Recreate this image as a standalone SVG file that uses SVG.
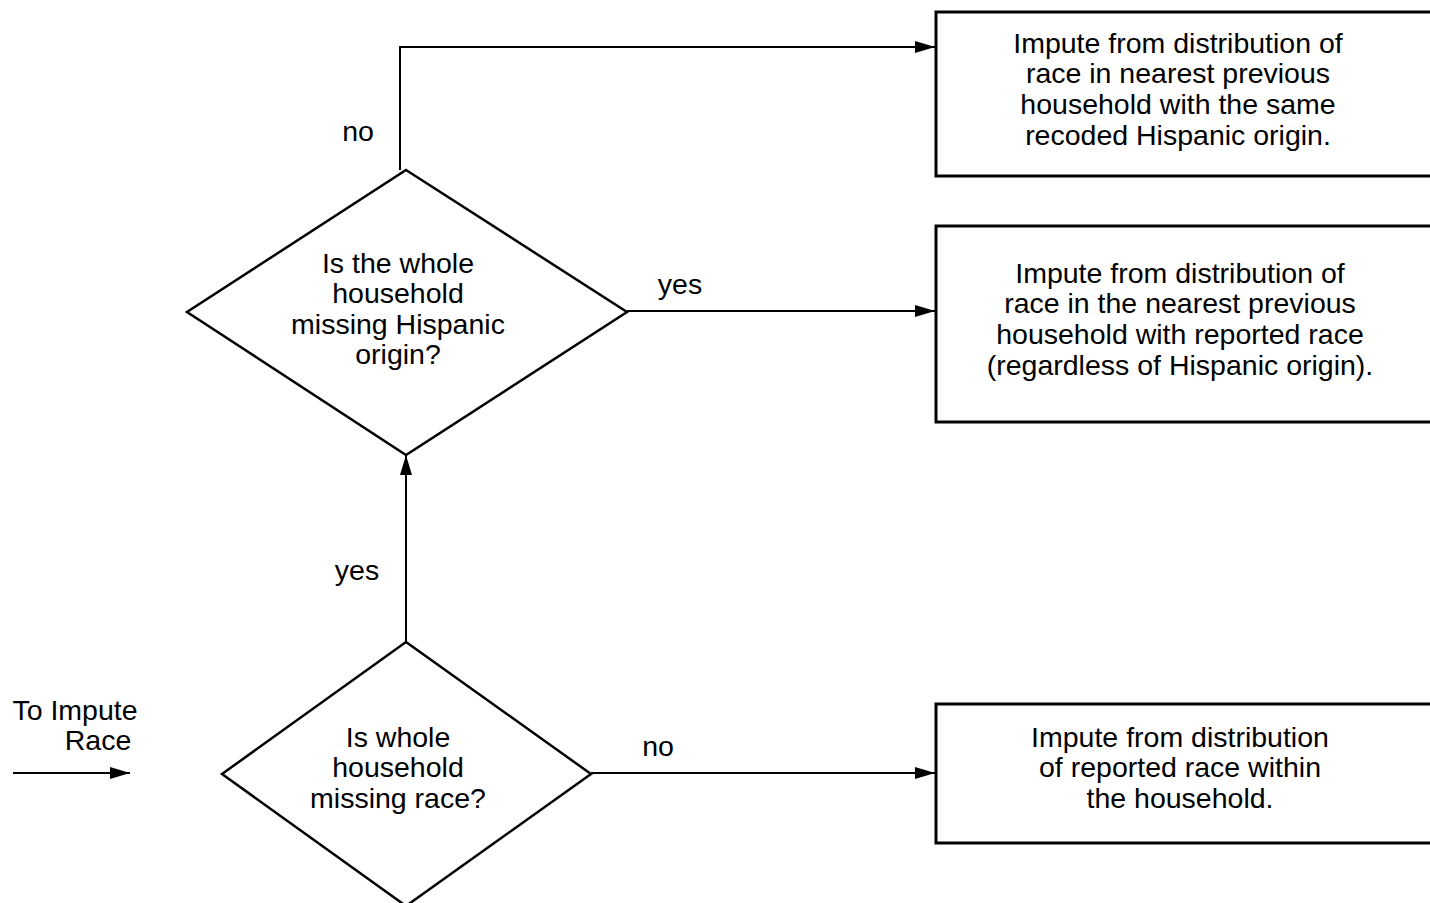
<svg xmlns="http://www.w3.org/2000/svg" width="1430" height="903" viewBox="0 0 1430 903">
<style>
text{font-family:"Liberation Sans",Arial,sans-serif;font-size:28.5px;fill:#000;text-anchor:middle}
.box{fill:#fff;stroke:#000;stroke-width:3}
.dia{fill:#fff;stroke:#000;stroke-width:2.5}
.con{fill:none;stroke:#000;stroke-width:2}
</style>
<defs>
<marker id="ah" markerWidth="20" markerHeight="12" refX="20" refY="6" orient="auto" markerUnits="userSpaceOnUse">
<path d="M0,0 L20,6 L0,12 Z" fill="#000"/>
</marker>
</defs>
<rect width="1430" height="903" fill="#fff"/>
<g id="connectors">
<path class="con" d="M13,773 H130" marker-end="url(#ah)"/>
<path class="con" d="M400,170 V47 H935" marker-end="url(#ah)"/>
<path class="con" d="M627,311 H935" marker-end="url(#ah)"/>
<path class="con" d="M406,642 V455" marker-end="url(#ah)"/>
<path class="con" d="M591,773 H935" marker-end="url(#ah)"/>
<text x="358" y="141">no</text>
<text x="680" y="294">yes</text>
<text x="357" y="580">yes</text>
<text x="658" y="756">no</text>
</g>
<g id="start">
<text x="75" y="720">To Impute</text>
<text x="98" y="750">Race</text>
</g>
<g id="d1">
<polygon class="dia" points="406,170 627,312 406,455 187,312"/>
<text x="398" y="273">Is the whole</text>
<text x="398" y="303">household</text>
<text x="398" y="334">missing Hispanic</text>
<text x="398" y="364">origin?</text>
</g>
<g id="d2">
<polygon class="dia" points="406,642 591,774 406,906 222,774"/>
<text x="398" y="747">Is whole</text>
<text x="398" y="777">household</text>
<text x="398" y="808">missing race?</text>
</g>
<g id="b1">
<rect class="box" x="936" y="12" width="500" height="164"/>
<text x="1178" y="53">Impute from distribution of</text>
<text x="1178" y="83">race in nearest previous</text>
<text x="1178" y="114">household with the same</text>
<text x="1178" y="145">recoded Hispanic origin.</text>
</g>
<g id="b2">
<rect class="box" x="936" y="226" width="500" height="196"/>
<text x="1180" y="283">Impute from distribution of</text>
<text x="1180" y="313">race in the nearest previous</text>
<text x="1180" y="344">household with reported race</text>
<text x="1180" y="375">(regardless of Hispanic origin).</text>
</g>
<g id="b3">
<rect class="box" x="936" y="704" width="500" height="139"/>
<text x="1180" y="747">Impute from distribution</text>
<text x="1180" y="777">of reported race within</text>
<text x="1180" y="808">the household.</text>
</g>
</svg>
